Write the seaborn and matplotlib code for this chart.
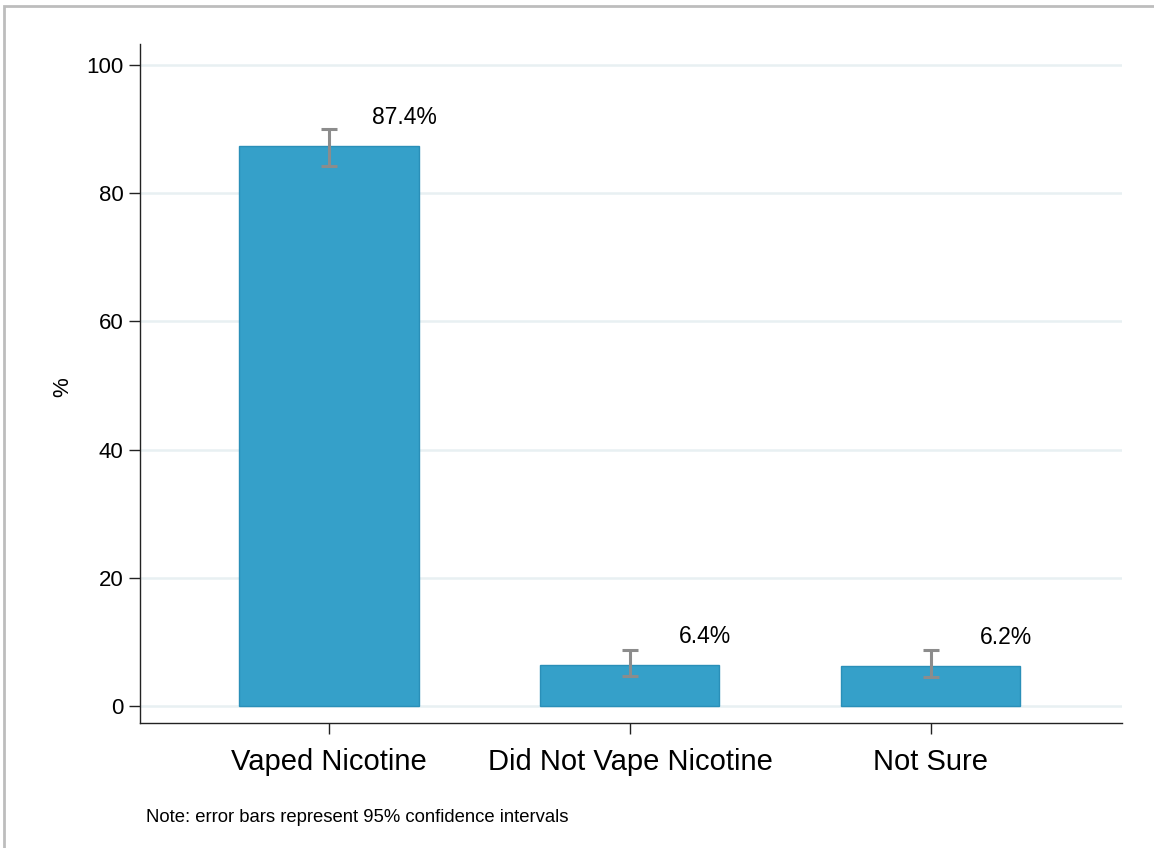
import numpy as np
import pandas as pd
import seaborn as sns
import matplotlib.pyplot as plt
from matplotlib.patches import Rectangle

# data
categories = ["Vaped Nicotine", "Did Not Vape Nicotine", "Not Sure"]
percent = [87.4, 6.4, 6.2]
ci_low = [84.2, 4.7, 4.5]
ci_high = [90.0, 8.7, 8.7]
yticks = [0, 20, 40, 60, 80, 100]

df = pd.DataFrame({"category": categories, "percent": percent})

sns.set_style("white")
plt.rcParams["font.family"] = ["Liberation Sans", "DejaVu Sans"]
plt.rcParams["text.color"] = "black"
plt.rcParams["xtick.color"] = "black"
plt.rcParams["ytick.color"] = "black"
plt.rcParams["axes.labelcolor"] = "black"

fig = plt.figure(figsize=(11.54, 8.48), dpi=100)
ax = fig.add_axes([140 / 1154, 1 - 723 / 848, (1122 - 140) / 1154, (723 - 44) / 848])

sns.barplot(data=df, x="category", y="percent", color="#35a0c9", saturation=1,
            width=0.595, edgecolor="#2a8fb8", linewidth=1, errorbar=None, ax=ax)

x = np.arange(len(categories))
err = [np.array(percent) - np.array(ci_low), np.array(ci_high) - np.array(percent)]
ax.errorbar(x, percent, yerr=err, fmt="none", ecolor="#8c8c8c", elinewidth=2.2,
            capsize=6, capthick=2.2, zorder=5)

for xi, p in zip(x, percent):
    ax.text(xi + 0.25, p + 4.5, f"{p:.1f}%", ha="center", va="center", fontsize=16.5)

ax.set_ylim(-2.65, 103.3)
ax.set_xlim(-0.628, 2.635)
ax.set_yticks(yticks)
ax.set_yticklabels([str(t) for t in yticks], fontsize=16)
ax.tick_params(axis="x", labelsize=21, length=8, width=1, pad=10, color="#222222", bottom=True)
ax.tick_params(axis="y", length=8, width=1, pad=4, color="#222222", left=True)
ax.yaxis.grid(True, color="#e8f0f2", linewidth=1.8)
ax.set_axisbelow(True)
ax.set_xlabel("")
ax.set_ylabel("%", fontsize=16)
ax.yaxis.set_label_coords((73 - 140) / 982, 0.495)

for side in ["top", "right"]:
    ax.spines[side].set_visible(False)
for side in ["left", "bottom"]:
    ax.spines[side].set_color("#222222")
    ax.spines[side].set_linewidth(1)

fig.text(146 / 1154, 1 - 818 / 848, "Note: error bars represent 95% confidence intervals",
         fontsize=13.3, va="center")

# outer frame (left and top edges visible in the reference)
fig.patches.append(Rectangle((4 / 1154, -0.01), 1.02, 1 - 6 / 848 + 0.01, transform=fig.transFigure,
                             fill=False, edgecolor="#bdbdbd", linewidth=2))

fig.savefig("out.png", dpi=100)
